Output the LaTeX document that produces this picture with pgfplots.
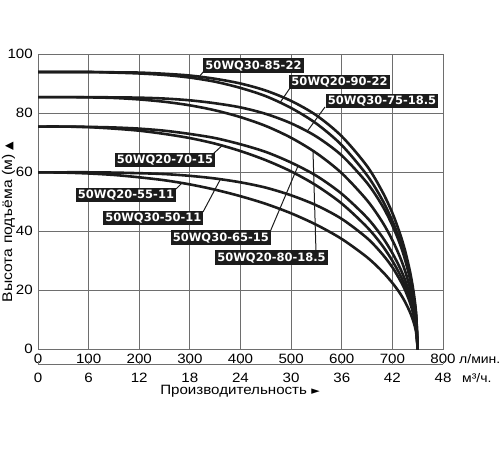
\documentclass[border=0pt]{standalone}
\usepackage{pgfplots}
\usepackage{pgfplotstable}
\pgfplotsset{compat=1.18}
\usepackage{fontspec}
\setmainfont{Liberation Sans}[FakeStretch=1.12]
\newfontfamily\lblfont{DejaVu Sans}
\newfontfamily\symfont{DejaVu Sans}
\definecolor{gridc}{RGB}{110,110,110}
\definecolor{curvec}{RGB}{28,28,28}
\newcommand\tickfont{\fontsize{13.5bp}{14bp}\selectfont}
\newcommand\unitfont{\fontsize{12.5bp}{13bp}\selectfont}

\pgfplotstableread{
Q A B C D E F G H
0 94 94 85.5 85.5 75.5 75.5 60 60
50 94 94 85.5 85.5 75.5 75.5 60 59.9
100 94.0 94.0 85.5 85.4 75.4 75.3 60.0 59.6
150 93.9 93.8 85.4 85.2 75.2 74.8 59.9 59.1
200 93.8 93.5 85.3 84.7 74.8 74.1 59.7 58.3
250 93.4 93.0 85.0 83.9 74.1 73.0 59.4 57.3
300 92.8 92.1 84.4 82.7 73.0 71.6 58.8 55.9
350 91.7 90.7 83.4 81.0 71.6 69.7 57.9 54.1
400 90.1 88.6 82.0 78.7 69.5 67.2 56.6 51.9
450 87.7 85.8 79.8 75.7 66.9 64.1 54.8 49.3
500 84.2 81.8 76.6 71.7 63.3 60.3 52.2 46.1
550 79.3 76.5 72.1 66.5 58.8 55.5 48.8 42.2
600 72.2 69.2 65.7 59.7 52.7 49.4 44.2 37.4
650 62.1 59.0 56.4 50.5 44.6 41.4 37.7 31.2
680 53.5 50.7 48.7 43.2 38.1 35.2 32.3 26.4
700 46.2 43.5 42.0 37.0 32.6 30.0 27.8 22.5
715 39.2 36.9 35.7 31.3 27.6 25.3 23.5 19.0
725 33.5 31.4 30.4 26.6 23.5 21.5 20.1 16.1
735 26.2 24.6 23.8 20.7 18.3 16.7 15.7 12.5
742 19.3 18.0 17.5 15.2 13.4 12.3 11.5 9.2
747 11.9 11.1 10.8 9.3 8.2 7.6 7.1 5.6
750 0 0 0 0 0 0 0 0
}\curves

\begin{document}
\begin{tikzpicture}
\useasboundingbox (0,0) rectangle (500bp,-450bp);
\begin{axis}[
  at={(38bp,-349.3bp)}, anchor=south west,
  width=405bp, height=295bp, scale only axis,
  xmin=0, xmax=800, ymin=0, ymax=100,
  xtick={0,100,...,800}, ytick={0,20,...,100},
  grid=major, grid style={draw=gridc, line width=1bp},
  axis line style={draw=gridc, line width=1bp},
  major tick length=0pt,
  tick label style={font=\tickfont},
  /pgf/number format/assume math mode=true,
  xticklabel style={anchor=north, inner sep=0pt, yshift=-4.7bp},
  yticklabel style={anchor=east, inner sep=0pt, xshift=-5bp},
]
\foreach \c in {A,B,C,D,E,F,G,H}{
  \addplot[curvec, line width=2.6bp, smooth] table[x=Q, y=\c] {\curves};
}
\end{axis}
\begin{axis}[
  at={(38bp,-364bp)}, anchor=south west,
  width=405bp, height=1bp, scale only axis,
  xmin=0, xmax=48, ymin=0, ymax=1,
  axis x line*=bottom, hide y axis,
  xtick={0,6,...,48},
  tick align=inside, major tick length=3bp,
  every tick/.style={draw=gridc, line width=1bp},
  axis line style={draw=gridc, line width=1bp},
  tick label style={font=\tickfont},
  /pgf/number format/assume math mode=true,
  xticklabel style={anchor=north, inner sep=0pt, yshift=-8.4bp},
]
\addplot[draw=none] coordinates {(0,0.5)};
\end{axis}

% leaders
\begin{scope}[line width=1bp, curvec]
\draw (204bp,-71bp) -- (199bp,-77bp);
\draw (290bp,-88bp) -- (280bp,-102.7bp);
\draw (325bp,-107bp) -- (307bp,-131.6bp);
\draw (213bp,-154bp) -- (222bp,-145.7bp);
\draw (176bp,-189bp) -- (182bp,-183bp);
\draw (203bp,-212bp) -- (220bp,-180bp);
\draw (270bp,-232bp) -- (298bp,-166bp);
\draw (316bp,-252bp) -- (313bp,-151bp);
\end{scope}

\tikzset{lbl/.style={fill=curvec, text=white, inner xsep=2bp, inner ysep=2.5bp,
  text height=8.4bp, text depth=1bp, font=\lblfont\bfseries\fontsize{11.5bp}{12bp}\selectfont}}
\node[lbl] at (253.5bp,-65.5bp) {50WQ30-85-22};
\node[lbl] at (339.5bp,-82bp) {50WQ20-90-22};
\node[lbl] at (382bp,-101bp) {50WQ30-75-18.5};
\node[lbl] at (165bp,-160bp) {50WQ20-70-15};
\node[lbl] at (126bp,-194.7bp) {50WQ20-55-11};
\node[lbl] at (153.3bp,-217.8bp) {50WQ30-50-11};
\node[lbl] at (220.8bp,-237.5bp) {50WQ30-65-15};
\node[lbl] at (271.5bp,-257.5bp) {50WQ20-80-18.5};

% axis titles and units
\node[rotate=90, font=\fontsize{14bp}{15bp}\selectfont, inner sep=0pt] at (8.5bp,-222bp) {Высота подъёма (м) {\symfont\fontsize{11bp}{12bp}\selectfont ▲}};
\node[font=\tickfont, inner sep=0pt] at (240bp,-391.5bp) {Производительность {\symfont\fontsize{11bp}{12bp}\selectfont ►}};
\node[font=\unitfont, anchor=west, inner sep=0pt] at (459bp,-359bp) {л/мин.};
\node[font=\unitfont, anchor=west, inner sep=0pt] at (462bp,-378bp) {м³/ч.};
\end{tikzpicture}
\end{document}
